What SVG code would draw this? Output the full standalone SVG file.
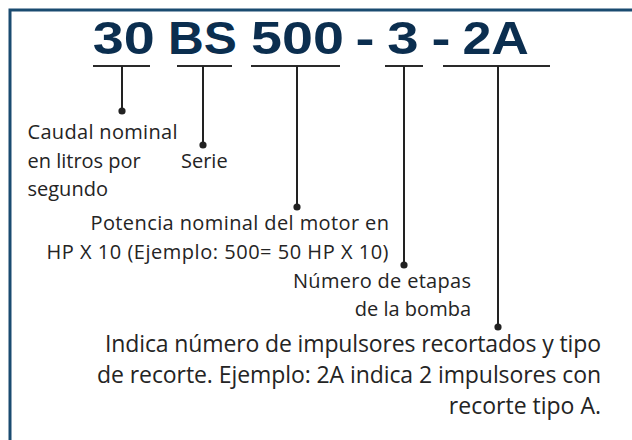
<svg xmlns="http://www.w3.org/2000/svg" width="632" height="440" viewBox="0 0 632 440">
<style>
.code{font-family:"Liberation Sans",Arial,sans-serif;font-weight:bold;font-size:46px;fill:#0b2e4f}
.lbl{font-family:"Open Sans","Noto Sans",sans-serif;font-size:20px;fill:#242424}
.big{font-family:"Open Sans","Noto Sans",sans-serif;font-size:23px;fill:#242424}
.ul{stroke:#2a2a2a;stroke-width:2;fill:none}
.ln{stroke:#222;stroke-width:2;fill:none}
.dot{fill:#222}
</style>
<rect width="632" height="440" fill="#ffffff"/>
<path d="M10,440 V10 H632" fill="none" stroke="#1a4b70" stroke-width="3"/>
<g id="title">
<text class="code" x="92.8" y="53.5" textLength="62" lengthAdjust="spacingAndGlyphs">30</text>
<text class="code" x="168" y="53.5" textLength="68.9" lengthAdjust="spacingAndGlyphs">BS</text>
<text class="code" x="251" y="53.5" textLength="92.9" lengthAdjust="spacingAndGlyphs">500</text>
<text class="code" x="355.4" y="53.5" textLength="19" lengthAdjust="spacingAndGlyphs">-</text>
<text class="code" x="387.3" y="53.5" textLength="31.4" lengthAdjust="spacingAndGlyphs">3</text>
<text class="code" x="431.4" y="53.5" textLength="19" lengthAdjust="spacingAndGlyphs">-</text>
<text class="code" x="462.4" y="53.5" textLength="66.5" lengthAdjust="spacingAndGlyphs">2A</text>
</g>
<g id="connectors">
<path class="ul" d="M93,66 H150 M177,66 H232 M251,66 H340 M385,66 H423 M443,66 H550"/>
<path class="ln" d="M122,66 V111 M203,66 V145 M297,66 V207 M404,66 V265 M498,66 V327"/>
<circle class="dot" cx="122" cy="111" r="3.6"/>
<circle class="dot" cx="203" cy="145" r="3.6"/>
<circle class="dot" cx="297" cy="207" r="3.6"/>
<circle class="dot" cx="404" cy="265" r="3.6"/>
<circle class="dot" cx="498" cy="327" r="3.6"/>
</g>
<g id="caudal">
<text class="lbl" x="27.5" y="139" textLength="150">Caudal nominal</text>
<text class="lbl" x="27.5" y="167.5">en litros por</text>
<text class="lbl" x="27.5" y="195.5">segundo</text>
</g>
<g id="serie">
<text class="lbl" x="181" y="167.5">Serie</text>
</g>
<g id="potencia">
<text class="lbl" x="90.5" y="230" textLength="298.5">Potencia nominal del motor en</text>
<text class="lbl" x="46.5" y="259" textLength="342">HP X 10 (Ejemplo: 500= 50 HP X 10)</text>
</g>
<g id="etapas">
<text class="lbl" x="293" y="287.5" textLength="178">Número de etapas</text>
<text class="lbl" x="471" y="316" text-anchor="end">de la bomba</text>
</g>
<g id="recorte">
<text class="big" x="105" y="352" textLength="496">Indica número de impulsores recortados y tipo</text>
<text class="big" x="97" y="383" textLength="504">de recorte. Ejemplo: 2A indica 2 impulsores con</text>
<text class="big" x="601" y="414" text-anchor="end">recorte tipo A.</text>
</g>
</svg>
